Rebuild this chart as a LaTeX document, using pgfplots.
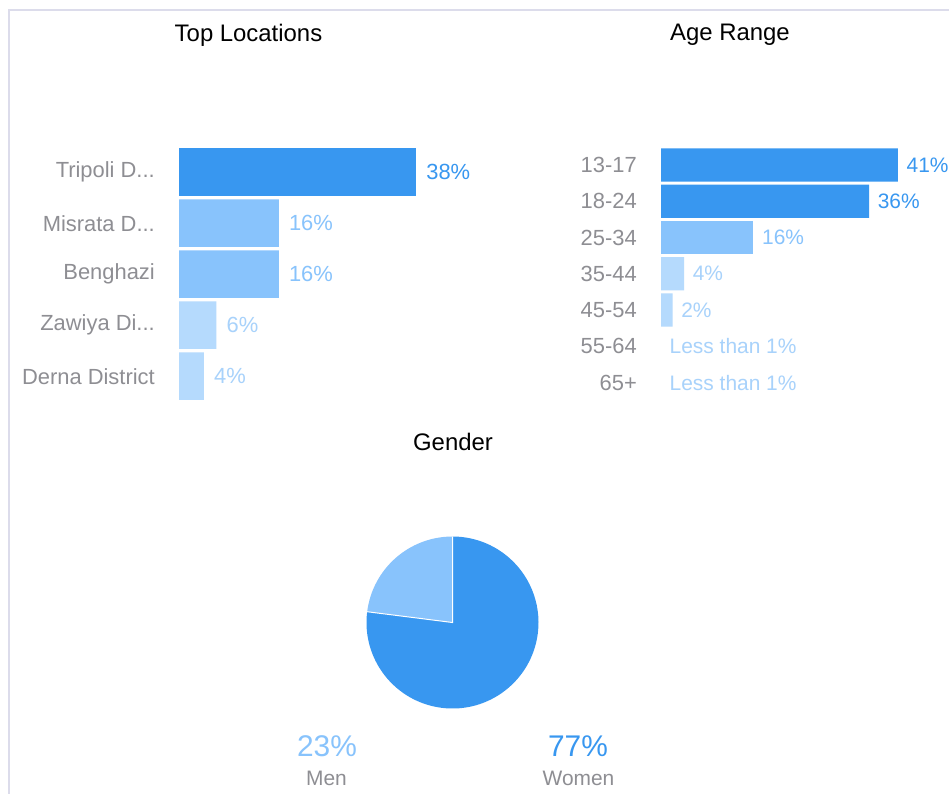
\documentclass[border=0pt]{standalone}
\usepackage{pgfplots}
\pgfplotsset{compat=1.18}
\usepackage{pgfplotstable}
\usepackage{fontspec}
\setmainfont{Liberation Sans}
\definecolor{dblue}{HTML}{3897F0}
\definecolor{mblue}{HTML}{88C3FC}
\definecolor{lblue}{HTML}{B5DAFD}
\definecolor{lbltext}{HTML}{A8D2FB}
\definecolor{labgray}{HTML}{8E8E93}
\definecolor{frame}{HTML}{DCDCEB}
\newcommand\dd{...}

\pgfplotstableread{
y val lab
0 38 38\%
}\locDark
\pgfplotstableread{
y val lab
1 16 16\%
2 16 16\%
}\locMid
\pgfplotstableread{
y val lab
3 6 6\%
4 4 4\%
}\locLight

\pgfplotstableread{
y val lab
0 41 41\%
1 36 36\%
}\ageDark
\pgfplotstableread{
y val lab
2 16 16\%
}\ageMid
\pgfplotstableread{
y val lab
3 4 4\%
4 2 2\%
}\ageLight
\pgfplotstableread[col sep=comma]{
y,val,lab
5,0,Less than 1\%
6,0,Less than 1\%
}\ageNone

\def\menval{23}
\def\womenval{77}

\pgfplotsset{
  barstyle/.style={
    xbar, scale only axis, y dir=reverse,
    xmin=0, axis x line=none,
    axis y line*=left, y axis line style={draw=none},
    major tick length=0pt, ytick=data,
    yticklabel style={font=\fontsize{22}{24}\selectfont, text=labgray, anchor=east, inner sep=0pt, xshift=-24bp},
    point meta=explicit symbolic,
    nodes near coords,
    nodes near coords style={font=\fontsize{22}{24}\selectfont, anchor=west, inner sep=0pt, xshift=10bp},
    clip=false,
  }
}

\begin{document}
\begin{tikzpicture}
\path[use as bounding box] (0bp,0bp) rectangle (949bp,-794bp);
\fill[white] (0bp,0bp) rectangle (949bp,-794bp);
\draw[frame, line width=2bp] (8.7bp,-794bp) -- (8.7bp,-9.5bp) -- (949bp,-9.5bp);

% titles
\node[font=\fontsize{24}{26}\selectfont] at (248.5bp,-35bp) {Top Locations};
\node[font=\fontsize{24}{26}\selectfont] at (730bp,-35bp) {Age Range};
\node[font=\fontsize{24}{26}\selectfont] at (453bp,-442bp) {Gender};

% Top locations
\begin{axis}[barstyle,
  at={(179bp,-146.7bp)}, anchor=north west,
  width=249.6bp, height=255bp,
  xmax=40, ymin=-0.5, ymax=4.5,
  bar width=0.93, bar shift=0pt,
  yticklabels={Tripoli D\dd,Misrata D\dd,Benghazi,Zawiya Di\dd,Derna District},
  ytick={0,1,2,3,4},
]
\addplot[fill=dblue, draw=none, nodes near coords style={text=dblue}] table[x=val, y=y, meta=lab] {\locDark};
\addplot[fill=mblue, draw=none, nodes near coords style={text=mblue}] table[x=val, y=y, meta=lab] {\locMid};
\addplot[fill=lblue, draw=none, nodes near coords style={text=lbltext}] table[x=val, y=y, meta=lab] {\locLight};
\end{axis}

% Age range
\begin{axis}[barstyle,
  at={(661bp,-146.9bp)}, anchor=north west,
  width=260.1bp, height=253.75bp,
  xmax=45, ymin=-0.5, ymax=6.5,
  bar width=0.92, bar shift=0pt,
  ytick={0,1,2,3,4,5,6},
  yticklabels={13-17,18-24,25-34,35-44,45-54,55-64,65+},
  nodes near coords style={font=\fontsize{21}{23}\selectfont, xshift=-1.5bp},
]
\addplot[fill=dblue, draw=none, nodes near coords style={text=dblue}] table[x=val, y=y, meta=lab] {\ageDark};
\addplot[fill=mblue, draw=none, nodes near coords style={text=mblue}] table[x=val, y=y, meta=lab] {\ageMid};
\addplot[fill=lblue, draw=none, nodes near coords style={text=lbltext}] table[x=val, y=y, meta=lab] {\ageLight};
\addplot[fill=none, draw=none, nodes near coords style={text=lbltext}] table[x=val, y=y, meta=lab] {\ageNone};
\end{axis}

% Gender pie
\pgfmathsetmacro{\aend}{90+3.6*\menval}
\pgfmathsetmacro{\cx}{cos(\aend)}
\pgfmathsetmacro{\cy}{sin(\aend)}
\begin{axis}[
  at={(452.5bp,-622.5bp)}, anchor=center,
  scale only axis, width=172bp, height=172bp,
  xmin=-1, xmax=1, ymin=-1, ymax=1,
  hide axis, clip=false,
]
\fill[mblue] (axis cs:0,0) -- (axis cs:0,1) arc[start angle=90, end angle=\aend, radius=86bp] -- cycle;
\fill[dblue] (axis cs:0,0) -- (axis cs:\cx,\cy) arc[start angle=\aend, end angle=450, radius=86bp] -- cycle;
\draw[white, line width=1bp] (axis cs:0,1) -- (axis cs:0,0) -- (axis cs:\cx,\cy);
\end{axis}

\node[font=\fontsize{30}{32}\selectfont, text=mblue] at (327bp,-746bp) {\menval\%};
\node[font=\fontsize{21}{23}\selectfont, text=labgray] at (326.5bp,-778bp) {Men};
\node[font=\fontsize{30}{32}\selectfont, text=dblue] at (578bp,-746bp) {\womenval\%};
\node[font=\fontsize{21}{23}\selectfont, text=labgray] at (578.5bp,-778bp) {Women};
\end{tikzpicture}
\end{document}
